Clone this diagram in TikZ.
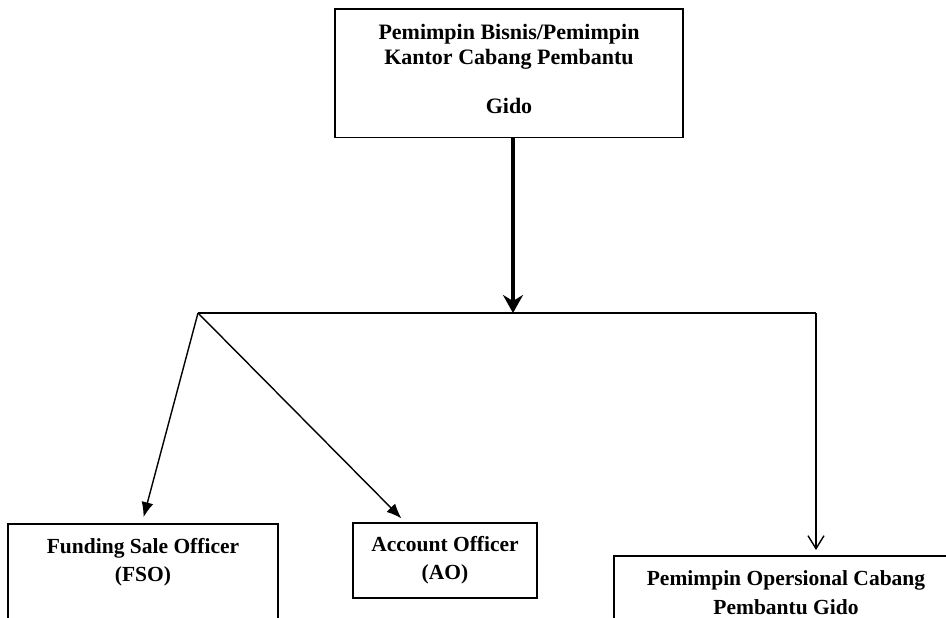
\documentclass[tikz,border=0pt]{standalone}
\usepackage{fontspec}
\setmainfont{Liberation Serif}
\usetikzlibrary{arrows.meta, calc}
\tikzstyle{orgbox} = [rectangle, draw=black, line width=1.5pt, anchor=north, align=center, inner ysep=15pt, font=\bfseries\fontsize{21.5}{28}\selectfont]
\tikzstyle{arrow} = [line width=1.4pt, -{Latex[length=15pt,width=12pt]}]
\tikzstyle{thickarrow} = [line width=4pt, -{Stealth[length=18pt,width=20pt,inset=6pt]}]
\tikzstyle{openarrow} = [line width=1.4pt, -{Straight Barb[length=13pt,width=16pt]}]
\tikzstyle{link} = [line width=1.4pt]

\begin{document}
\begin{tikzpicture}[x=1pt, y=-1pt]
\useasboundingbox (0,0) rectangle (946,618);

% Boxes
\node (pimpinan) [orgbox, minimum width=348pt, text depth=9pt, font=\bfseries\fontsize{22}{25}\selectfont] at (509,8.5) {Pemimpin Bisnis/Pemimpin\\Kantor Cabang Pembantu\\[24pt]Gido};
\node (fso) [orgbox, minimum width=270pt, text depth=100pt] at (143,523) {Funding Sale Officer\\(FSO)};
\node (ao) [orgbox, minimum width=184pt, text depth=4pt, inner ysep=14pt] at (445,522) {Account Officer\\(AO)};
\node (pocp) [orgbox, minimum width=344pt, text depth=100pt, font=\bfseries\fontsize{21.5}{29}\selectfont] at (786,555) {Pemimpin Opersional Cabang\\Pembantu Gido};

% Branch line
\coordinate (split) at (198,313);
\coordinate (corner) at (816,313);

\draw [link] (split) -- (corner);
\draw [thickarrow] ([xshift=4pt]pimpinan.south) -- ([xshift=4pt]pimpinan.south |- split);
\draw [arrow, shorten >=6pt] (split) -- ([xshift=-1pt]fso.north);
\draw [arrow, shorten >=5pt] (split) -- ([xshift=-40pt]ao.north);
\draw [openarrow, shorten >=5pt] (corner) -- (corner |- pocp.north);

\end{tikzpicture}
\end{document}
